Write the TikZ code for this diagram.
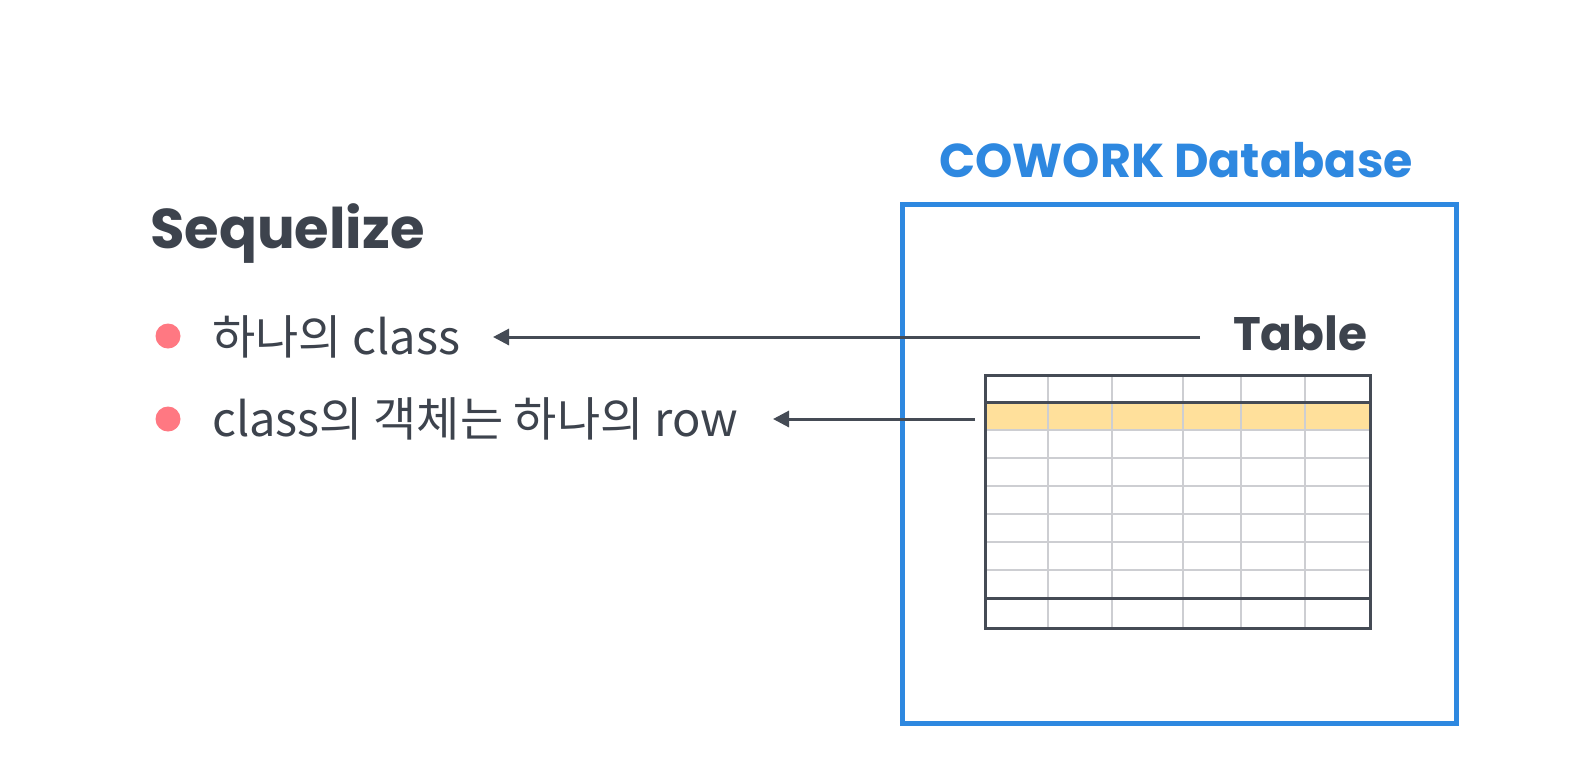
\documentclass[tikz,border=0pt]{standalone}
\usepackage{fontspec}
\usetikzlibrary{arrows.meta}
\newfontfamily\popfont{Poppins}
\newfontfamily\krfont{Noto Sans CJK KR}
\definecolor{dark}{HTML}{3D434D}
\definecolor{arrowc}{HTML}{454B55}
\definecolor{blueb}{HTML}{2E88E0}
\definecolor{pinkb}{HTML}{FF7882}
\definecolor{hl}{HTML}{FFE09B}
\definecolor{gridc}{HTML}{CDCED2}
\tikzset{
  titletext/.style={font=\popfont\bfseries\fontsize{56}{64}\selectfont, text=dark, inner sep=0pt},
  dbtext/.style={font=\popfont\bfseries\fontsize{47.5}{56}\selectfont, text=blueb, inner sep=0pt},
  tabtext/.style={font=\popfont\bfseries\fontsize{47}{54}\selectfont, text=dark, inner sep=0pt},
  itemtext/.style={font=\krfont\fontsize{47}{55}\selectfont, text=dark, inner sep=0pt},
  bullet/.style={circle, fill=pinkb, minimum size=25pt, inner sep=0pt},
  dbbox/.style={draw=blueb, line width=4.5pt},
  arr/.style={draw=arrowc, line width=3pt, -{Triangle[length=16pt,width=16pt]}},
  thinline/.style={draw=gridc, line width=1.3pt},
  thickline/.style={draw=arrowc, line width=3pt},
}
\begin{document}
\begin{tikzpicture}[x=1pt,y=-1pt]
\useasboundingbox[fill=white] (0,0) rectangle (1587,780);
% database box
\node[dbbox, minimum width=554pt, minimum height=519pt, anchor=north west, inner sep=0pt] (db) at (900,202) {};
\node[dbtext] (dbtitle) at (1176,160) {COWORK Database};
% left texts
\node[titletext, anchor=west] (seq) at (150,234) {Sequelize};
\node[bullet] (b1) at (168,336) {};
\node[bullet] (b2) at (168,419) {};
\node[itemtext, anchor=west] (item1) at (212,337) {하나의 class};
\node[itemtext, anchor=west] (item2) at (212,419) {class의 객체는 하나의 row};
\node[tabtext, anchor=west] (tbl) at (1233,333) {Table};
% table
\fill[hl] (984,402) rectangle (1369,430);
\foreach \y in {430,458,486,514,542,570}
  \draw[thinline] (984,\y) -- (1369,\y);
\foreach \x in {1048,1112,1183,1241,1305}
  \draw[thinline] (\x,374) -- (\x,627);
\draw[thickline] (984,402) -- (1369,402);
\draw[thickline] (984,598) -- (1369,598);
\node[thickline, minimum width=385pt, minimum height=253pt, anchor=north west, inner sep=0pt] (grid) at (984,374) {};
% arrows
\coordinate (s1) at (1200,337);
\coordinate (e1) at (493,337);
\coordinate (s2) at (975,419);
\coordinate (e2) at (773,419);
\draw[arr] (s1) -- (e1);
\draw[arr] (s2) -- (e2);
\end{tikzpicture}
\end{document}
